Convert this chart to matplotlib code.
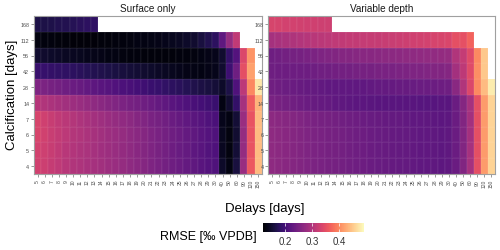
import numpy as np
import matplotlib
matplotlib.use("Agg")
import matplotlib.pyplot as plt
from matplotlib.colors import Normalize
from matplotlib.cm import ScalarMappable

plt.rcParams['font.family'] = ['Liberation Sans', 'DejaVu Sans']

delays = [5, 6, 7, 8, 9, 10, 11, 12, 13, 14, 15, 16, 17, 18, 19, 20, 21, 22, 23,
          24, 25, 26, 27, 28, 29, 30, 40, 50, 60, 90, 120, 150]
calcification = [4, 5, 6, 7, 14, 28, 42, 56, 112, 168]

# Surface only: RMSE per calcification row, along delays (rows are ragged)
surf_4 = [0.33, 0.325, 0.32, 0.313, 0.306, 0.30, 0.297, 0.293, 0.29, 0.287, 0.283, 0.279, 0.275, 0.27, 0.265, 0.26, 0.255, 0.25, 0.245, 0.24, 0.235, 0.23, 0.225, 0.22, 0.215, 0.21,
          0.145, 0.13, 0.16, 0.28, 0.36, 0.44]
surf_5 = [0.332, 0.327, 0.321, 0.315, 0.308, 0.302, 0.298, 0.294, 0.29, 0.286, 0.282, 0.278, 0.274, 0.269, 0.264, 0.259, 0.254, 0.249, 0.244, 0.239, 0.234, 0.229, 0.224, 0.219, 0.214, 0.209,
          0.14, 0.128, 0.155, 0.275, 0.355, 0.44]
surf_6 = [0.335, 0.33, 0.323, 0.317, 0.31, 0.304, 0.30, 0.296, 0.291, 0.287, 0.283, 0.279, 0.275, 0.27, 0.265, 0.26, 0.255, 0.25, 0.245, 0.24, 0.235, 0.23, 0.225, 0.22, 0.215, 0.21,
          0.138, 0.128, 0.152, 0.275, 0.355, 0.44]
surf_7 = [0.335, 0.328, 0.321, 0.315, 0.309, 0.303, 0.298, 0.293, 0.288, 0.284, 0.28, 0.276, 0.271, 0.266, 0.261, 0.256, 0.251, 0.246, 0.241, 0.236, 0.231, 0.226, 0.221, 0.216, 0.211, 0.206,
          0.135, 0.13, 0.155, 0.28, 0.355, 0.44]
surf_14 = [0.305, 0.30, 0.296, 0.292, 0.287, 0.282, 0.278, 0.274, 0.27, 0.265, 0.26, 0.256, 0.252, 0.248, 0.244, 0.24, 0.235, 0.23, 0.225, 0.22, 0.215, 0.21, 0.205, 0.20, 0.196, 0.192,
           0.13, 0.15, 0.185, 0.29, 0.365, 0.435]
surf_28 = [0.255, 0.252, 0.248, 0.244, 0.24, 0.236, 0.232, 0.228, 0.224, 0.22, 0.216, 0.212, 0.208, 0.204, 0.20, 0.196, 0.192, 0.188, 0.184, 0.18, 0.176, 0.172, 0.168, 0.164, 0.16, 0.156,
           0.145, 0.165, 0.21, 0.31, 0.40, 0.475]
surf_42 = [0.19, 0.188, 0.186, 0.184, 0.182, 0.18, 0.177, 0.174, 0.171, 0.168, 0.165, 0.162, 0.159, 0.156, 0.153, 0.15, 0.147, 0.144, 0.141, 0.138, 0.135, 0.133, 0.131, 0.13, 0.132, 0.135,
           0.15, 0.195, 0.24, 0.35, 0.42]
surf_56 = [0.15, 0.148, 0.146, 0.144, 0.142, 0.14, 0.138, 0.136, 0.134, 0.132, 0.13, 0.129, 0.128, 0.127, 0.126, 0.125, 0.125, 0.125, 0.125, 0.125, 0.126, 0.127, 0.128, 0.13, 0.133, 0.136,
           0.15, 0.185, 0.215, 0.34, 0.41]
surf_112 = [0.128, 0.127, 0.126, 0.125, 0.125, 0.124, 0.124, 0.124, 0.124, 0.125, 0.125, 0.126, 0.127, 0.128, 0.129, 0.13, 0.131, 0.133, 0.135, 0.138, 0.141, 0.145, 0.15, 0.16, 0.17, 0.18,
            0.225, 0.275, 0.315]
surf_168 = [0.165, 0.165, 0.167, 0.169, 0.171, 0.173, 0.176, 0.179, 0.182]

# Variable depth
var_4 = [0.27, 0.267, 0.264, 0.261, 0.258, 0.255, 0.252, 0.25, 0.248, 0.246, 0.244, 0.242, 0.24, 0.238, 0.236, 0.234, 0.232, 0.231, 0.23, 0.229, 0.228, 0.227, 0.226, 0.225, 0.224, 0.225,
         0.236, 0.258, 0.29, 0.35, 0.415, 0.46]
var_5 = [0.27, 0.267, 0.264, 0.261, 0.258, 0.255, 0.252, 0.25, 0.248, 0.246, 0.244, 0.242, 0.24, 0.238, 0.236, 0.234, 0.232, 0.231, 0.23, 0.229, 0.228, 0.227, 0.226, 0.225, 0.224, 0.225,
         0.236, 0.258, 0.29, 0.35, 0.415, 0.46]
var_6 = [0.27, 0.267, 0.264, 0.261, 0.258, 0.255, 0.252, 0.25, 0.248, 0.246, 0.244, 0.242, 0.24, 0.238, 0.236, 0.234, 0.232, 0.231, 0.23, 0.229, 0.228, 0.227, 0.226, 0.225, 0.224, 0.225,
         0.236, 0.258, 0.288, 0.35, 0.415, 0.46]
var_7 = [0.268, 0.265, 0.262, 0.259, 0.256, 0.253, 0.25, 0.248, 0.246, 0.244, 0.242, 0.24, 0.238, 0.236, 0.234, 0.232, 0.231, 0.23, 0.229, 0.228, 0.227, 0.226, 0.225, 0.224, 0.223, 0.224,
         0.235, 0.258, 0.288, 0.35, 0.415, 0.46]
var_14 = [0.25, 0.247, 0.244, 0.241, 0.238, 0.235, 0.233, 0.231, 0.229, 0.227, 0.225, 0.224, 0.223, 0.222, 0.221, 0.22, 0.22, 0.22, 0.22, 0.219, 0.219, 0.218, 0.218, 0.218, 0.219, 0.22,
          0.235, 0.26, 0.29, 0.35, 0.415, 0.46]
var_28 = [0.242, 0.24, 0.237, 0.235, 0.233, 0.231, 0.229, 0.228, 0.227, 0.226, 0.226, 0.226, 0.226, 0.227, 0.228, 0.229, 0.23, 0.231, 0.232, 0.233, 0.234, 0.235, 0.236, 0.237, 0.238, 0.24,
          0.265, 0.30, 0.34, 0.40, 0.44, 0.48]
var_42 = [0.24, 0.239, 0.238, 0.238, 0.238, 0.239, 0.24, 0.241, 0.242, 0.243, 0.244, 0.245, 0.246, 0.247, 0.248, 0.249, 0.25, 0.251, 0.252, 0.253, 0.254, 0.255, 0.256, 0.257, 0.258, 0.26,
          0.288, 0.312, 0.345, 0.405, 0.45]
var_56 = [0.24, 0.242, 0.244, 0.246, 0.248, 0.25, 0.252, 0.254, 0.256, 0.258, 0.26, 0.261, 0.262, 0.263, 0.264, 0.265, 0.266, 0.267, 0.268, 0.269, 0.27, 0.271, 0.272, 0.273, 0.274, 0.275,
          0.30, 0.318, 0.345, 0.40, 0.45]
var_112 = [0.29, 0.293, 0.296, 0.299, 0.302, 0.305, 0.307, 0.309, 0.311, 0.313, 0.315, 0.316, 0.317, 0.318, 0.319, 0.32, 0.321, 0.322, 0.324, 0.326, 0.328, 0.33, 0.332, 0.334, 0.336, 0.338,
           0.35, 0.352, 0.37]
var_168 = [0.335, 0.334, 0.332, 0.331, 0.33, 0.329, 0.328, 0.327, 0.327]

surface_rows = [surf_4, surf_5, surf_6, surf_7, surf_14, surf_28, surf_42, surf_56, surf_112, surf_168]
variable_rows = [var_4, var_5, var_6, var_7, var_14, var_28, var_42, var_56, var_112, var_168]

titles = ["Surface only", "Variable depth"]
vmin, vmax = 0.117, 0.494
cbar_ticks = [0.2, 0.3, 0.4]

W, H = 500, 251
fig = plt.figure(figsize=(W / 100, H / 100), dpi=100)
norm = Normalize(vmin, vmax)
cmap = plt.get_cmap('magma')

def fx(px):
    return px / W

def fy(py):
    return 1 - py / H

panels = [(34, 261.7), (268.3, 495)]
top, bot = 17, 175

for (x0, x1), rows, title in zip(panels, [surface_rows, variable_rows], titles):
    ax = fig.add_axes([fx(x0), fy(bot), fx(x1 - x0), (bot - top) / H])
    Z = np.full((len(calcification), len(delays)), np.nan)
    for i, r in enumerate(rows):
        Z[i, :len(r)] = r
    Zm = np.ma.masked_invalid(Z)
    ax.pcolormesh(np.arange(len(delays) + 1) - 0.5, np.arange(len(calcification) + 1) - 0.5,
                  Zm, cmap=cmap, norm=norm, edgecolors=(1, 1, 1, 0.035), linewidth=0.3)
    ax.set_xlim(-0.5, len(delays) - 0.5)
    ax.set_ylim(-0.5, len(calcification) - 0.5)
    ax.set_xticks(range(len(delays)))
    ax.set_xticklabels([str(d) for d in delays], rotation=90, fontsize=3.6, color='#4d4d4d')
    ax.set_yticks(range(len(calcification)))
    ax.set_yticklabels([str(c) for c in calcification], fontsize=3.9, color='#4d4d4d')
    ax.tick_params(length=2, width=0.4, color='#4d4d4d', pad=1.5)
    for s in ax.spines.values():
        s.set_color('#a0a0a0')
        s.set_linewidth(0.8)
    ax.set_title(title, fontsize=7.2, color='#1a1a1a', pad=3.5)

fig.text(fx(264.5), fy(209), "Delays [days]", fontsize=9.5, ha='center', va='center', color='black')
fig.text(fx(12), fy(95), "Calcification [days]", fontsize=9.5, rotation=90, ha='center', va='center', color='black')
fig.text(fx(257), fy(237), "RMSE [‰ VPDB]", fontsize=9, ha='right', va='center', color='black')

cax = fig.add_axes([fx(262.7), fy(233), fx(364.3 - 262.7), 9 / H])
cb = fig.colorbar(ScalarMappable(norm=norm, cmap=cmap), cax=cax, orientation='horizontal')
cb.set_ticks(cbar_ticks)
cb.set_ticklabels([f"{t:.1f}" for t in cbar_ticks])
cb.outline.set_visible(False)
cax.tick_params(axis='x', length=2, width=0.5, colors='white', direction='in', pad=3, labelsize=7,
                top=True)
for lbl in cax.get_xticklabels():
    lbl.set_color('#333333')

fig.savefig("out.png", dpi=100, facecolor='white')
